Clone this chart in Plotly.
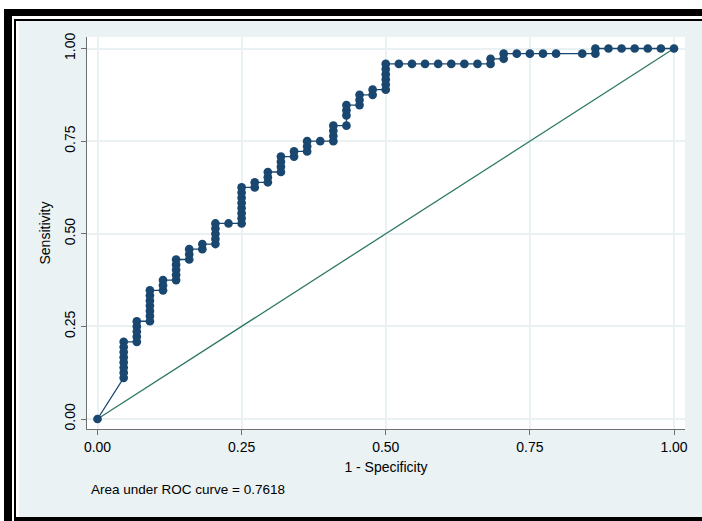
import plotly.graph_objects as go

# ---- data ----
n_controls = 44   # 1 - specificity denominator
n_cases = 72      # sensitivity denominator

# false-positive counts (out of n_controls), one per ROC point
fp_counts = [0,
             2, 2, 2, 2, 2, 2, 2, 2,
             3, 3, 3, 3, 3,
             4, 4, 4, 4, 4, 4, 4,
             5, 5, 5,
             6, 6, 6, 6, 6,
             7, 7, 7,
             8, 8,
             9, 9, 9, 9, 9,
             10,
             11, 11, 11, 11, 11, 11, 11, 11,
             12, 12,
             13, 13, 13,
             14, 14, 14, 14,
             15, 15,
             16, 16, 16,
             17,
             18, 18, 18, 18,
             19, 19, 19, 19,
             20, 20, 20,
             21, 21,
             22, 22, 22, 22, 22, 22,
             23, 24, 25, 26, 27, 28, 29,
             30, 30,
             31, 31,
             32, 33, 34, 35, 37,
             38, 38,
             39, 40, 41, 42, 43, 44]

# true-positive counts (out of n_cases), one per ROC point
tp_counts = [0,
             8, 9, 10, 11, 12, 13, 14, 15,
             15, 16, 17, 18, 19,
             19, 20, 21, 22, 23, 24, 25,
             25, 26, 27,
             27, 28, 29, 30, 31,
             31, 32, 33,
             33, 34,
             34, 35, 36, 37, 38,
             38,
             38, 39, 40, 41, 42, 43, 44, 45,
             45, 46,
             46, 47, 48,
             48, 49, 50, 51,
             51, 52,
             52, 53, 54,
             54,
             54, 55, 56, 57,
             57, 59, 60, 61,
             61, 62, 63,
             63, 64,
             64, 65, 66, 67, 68, 69,
             69, 69, 69, 69, 69, 69, 69,
             69, 70,
             70, 71,
             71, 71, 71, 71, 71,
             71, 72,
             72, 72, 72, 72, 72, 72]

ref_x = [0, 1]
ref_y = [0, 1]

tick_vals = [0, 0.25, 0.5, 0.75, 1]
tick_text = ["0.00", "0.25", "0.50", "0.75", "1.00"]
auc_text = "Area under ROC curve = 0.7618"

# ---- layout geometry ----
W, H = 702, 521
L, R, T, B = 87, 17, 37, 92
PW, PH = W - L - R, H - T - B


def px_x(x):
    return (x - L) / PW


def px_y(y):
    return (H - B - y) / PH


FONT = "Liberation Sans, Arial, Helvetica, sans-serif"
NAVY = "#1a476f"
REF = "#2f7866"
BG = "#eaf2f3"
GRID = "#eaf1f3"
AXIS = "#6f6f6f"

x_vals = [f / n_controls for f in fp_counts]
y_vals = [t / n_cases for t in tp_counts]

fig = go.Figure()
fig.add_trace(go.Scatter(x=ref_x, y=ref_y, mode="lines",
                         line=dict(color=REF, width=1.3),
                         hoverinfo="skip", showlegend=False))
fig.add_trace(go.Scatter(x=x_vals, y=y_vals, mode="lines+markers",
                         line=dict(color=NAVY, width=1.3),
                         marker=dict(size=8.7, color=NAVY, line=dict(width=0)),
                         showlegend=False))

axis_common = dict(
    tickvals=tick_vals, ticktext=tick_text,
    ticks="outside", ticklen=5, tickwidth=1, tickcolor=AXIS,
    showline=True, linecolor=AXIS, linewidth=1,
    showgrid=True, gridcolor=GRID, gridwidth=1.5,
    zeroline=False, tickfont=dict(family=FONT, size=14, color="black"),
    title_font=dict(family=FONT, size=14, color="black"),
)

fig.update_xaxes(range=[-10.5 / 576.5, 587.5 / 576.5], title_text="1 - Specificity",
                 title_standoff=8, **axis_common)
fig.update_yaxes(range=[-10 / 370.5, 382 / 370.5], title_text="Sensitivity",
                 tickangle=-90, title_standoff=8, **axis_common)

# frame decoration around the graph region
shapes = []


def rect(x0, y0, x1, y1, color):
    shapes.append(dict(type="rect", xref="paper", yref="paper",
                       x0=px_x(x0), x1=px_x(x1), y0=px_y(y1), y1=px_y(y0),
                       fillcolor=color, line=dict(width=0), layer="below"))


rect(0, 0, W, 21, "white")
rect(0, 0, 19, H, "white")
rect(4, 9, W, 16, "black")
rect(4, 9, 12, H, "black")
rect(14, 19, W, 21, "black")
rect(14, 19, 16, H, "black")
rect(14, 517, W, H, "black")

fig.update_layout(
    width=W, height=H,
    margin=dict(l=L, r=R, t=T, b=B, pad=0),
    paper_bgcolor=BG, plot_bgcolor="white",
    font=dict(family=FONT, size=14, color="black"),
    shapes=shapes,
    annotations=[dict(text=auc_text, xref="paper", yref="paper",
                      x=px_x(89), y=px_y(490), xanchor="left", yanchor="middle",
                      showarrow=False, font=dict(family=FONT, size=13.5, color="black"))],
)

fig.write_html("out.html",
               config={"displayModeBar": False},
               post_script="document.body.style.margin='0';document.body.style.overflow='hidden';")
